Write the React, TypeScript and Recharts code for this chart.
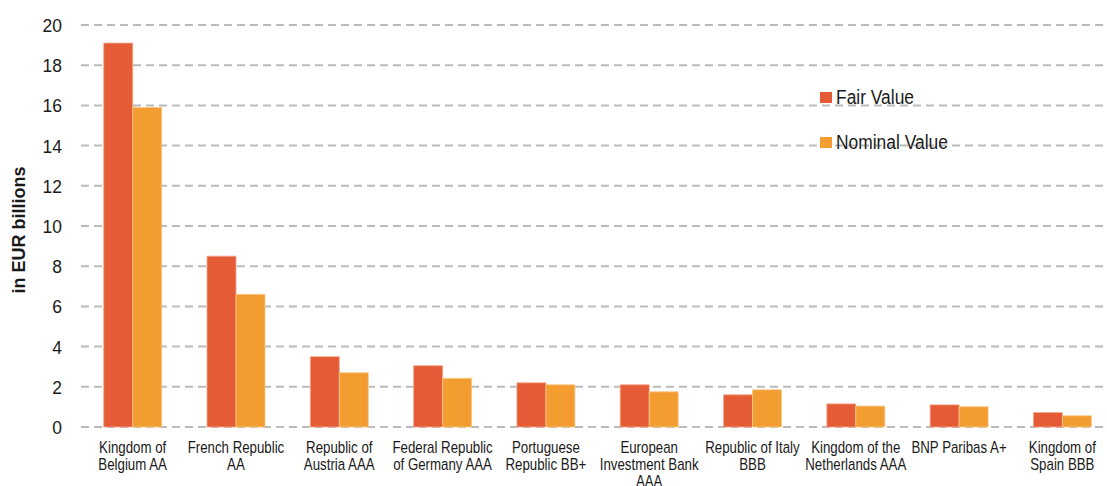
import React from 'react';
import { BarChart, Bar, XAxis, YAxis, CartesianGrid } from 'recharts';

const categories = [
  'Kingdom of\nBelgium AA',
  'French Republic\nAA',
  'Republic of\nAustria AAA',
  'Federal Republic\nof Germany AAA',
  'Portuguese\nRepublic BB+',
  'European\nInvestment Bank\nAAA',
  'Republic of Italy\nBBB',
  'Kingdom of the\nNetherlands AAA',
  'BNP Paribas A+',
  'Kingdom of\nSpain BBB',
];
const fairValue = [19.1, 8.5, 3.5, 3.05, 2.2, 2.1, 1.6, 1.15, 1.1, 0.72];
const nominalValue = [15.9, 6.6, 2.7, 2.42, 2.1, 1.75, 1.85, 1.04, 1.01, 0.56];
const yTicks = [0, 2, 4, 6, 8, 10, 12, 14, 16, 18, 20];
const legendItems = [
  { key: 'fair', label: 'Fair Value' },
  { key: 'nominal', label: 'Nominal Value' },
];

const FAIR_COLOR = '#E55B35';
const NOMINAL_COLOR = '#F39C30';
const COLORS: Record<string, string> = { fair: FAIR_COLOR, nominal: NOMINAL_COLOR };
const FONT = '"Liberation Sans", Arial, sans-serif';

const data = categories.map((c, i) => ({
  name: c,
  fair: fairValue[i],
  nominal: nominalValue[i],
}));

const XTick = (props: any) => {
  const { x, y, payload } = props;
  const lines = String(payload.value).split('\n');
  return (
    <g transform={`translate(${x},${y}) scale(0.83,1)`}>
      {lines.map((l, i) => (
        <text
          key={i}
          x={0}
          y={i * 17}
          dy={18}
          textAnchor="middle"
          fill="#1a1a1a"
          fontSize={16}
          fontFamily={FONT}
        >
          {l}
        </text>
      ))}
    </g>
  );
};

const YTick = (props: any) => {
  const { x, y, payload } = props;
  return (
    <g transform={`translate(${x},${y}) scale(0.92,1)`}>
      <text x={0} y={0} dy={7} textAnchor="end" fill="#1a1a1a" fontSize={19} fontFamily={FONT}>
        {payload.value}
      </text>
    </g>
  );
};

export default function App() {
  return (
    <div style={{ position: 'absolute', left: 0, top: 0, width: 1107, height: 486, overflow: 'hidden', background: '#fff' }}>
      <BarChart
        width={1120}
        height={486}
        data={data}
        margin={{ top: 25, right: 6, bottom: 0, left: 0 }}
        barCategoryGap="22%"
        barGap={0}
      >
        <CartesianGrid vertical={false} stroke="#bbbbbb" strokeWidth={2} strokeDasharray="8 5" />
        <XAxis
          dataKey="name"
          axisLine={false}
          tickLine={false}
          interval={0}
          height={59}
          tick={<XTick />}
        />
        <YAxis
          width={81}
          domain={[0, 20]}
          ticks={yTicks}
          axisLine={false}
          tickLine={false}
          tickMargin={13}
          tick={<YTick />}
          label={{
            content: (p: any) => {
              const vb = p.viewBox;
              const cx = 19;
              const cy = vb.y + vb.height / 2 + 4;
              return (
                <text
                  x={cx}
                  y={cy}
                  transform={`rotate(-90, ${cx}, ${cy})`}
                  textAnchor="middle"
                  dominantBaseline="central"
                  fontSize={18}
                  fontWeight="bold"
                  fontFamily={FONT}
                  fill="#1a1a1a"
                >
                  in EUR billions
                </text>
              );
            },
          }}
        />
        <Bar dataKey="fair" name="Fair Value" fill={FAIR_COLOR} stroke="#f3a88c" strokeWidth={0.8} isAnimationActive={false} />
        <Bar dataKey="nominal" name="Nominal Value" fill={NOMINAL_COLOR} stroke="#f8c98c" strokeWidth={0.8} isAnimationActive={false} />
      </BarChart>
      <div style={{ position: 'absolute', left: 820, top: 75, fontFamily: FONT, fontSize: 20, color: '#1a1a1a' }}>
        {legendItems.map((e) => (
          <div key={e.key} style={{ display: 'flex', alignItems: 'center', height: 45 }}>
            <span style={{ display: 'inline-block', width: 12, height: 11, background: COLORS[e.key], marginRight: 4, flexShrink: 0 }} />
            <span style={{ display: 'inline-block', transform: 'scaleX(0.87)', transformOrigin: 'left center', whiteSpace: 'nowrap' }}>{e.label}</span>
          </div>
        ))}
      </div>
    </div>
  );
}
